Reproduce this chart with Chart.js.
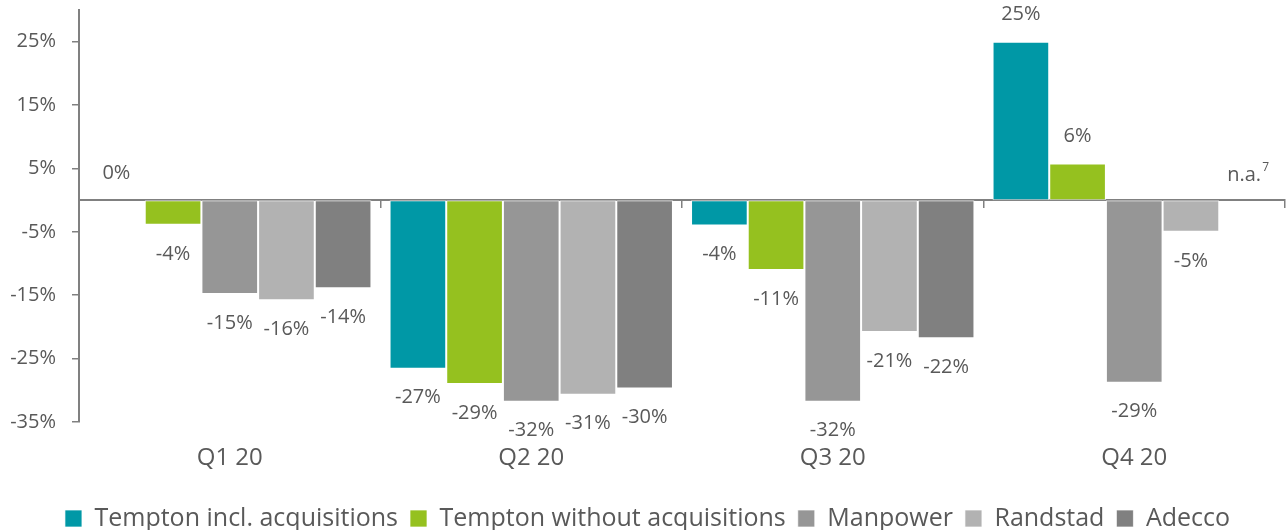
<!DOCTYPE html>
<html>
<head>
<meta charset="utf-8">
<script src="https://cdn.jsdelivr.net/npm/chart.js@4/dist/chart.umd.min.js"></script>
<style>
    html, body { margin: 0; padding: 0; background: #fff; overflow: hidden; }
    #wrap { width: 1286px; height: 530px; }
</style>
</head>
<body>
<div id="wrap"><canvas id="chart"></canvas></div>
<script>
// Chart data (percent change vs. prior year)
const quarters = ['Q1 20', 'Q2 20', 'Q3 20', 'Q4 20'];
const temptonIncl = [0, -26.6, -4, 25];
const temptonWithout = [-3.9, -29, -11, 5.8];
const manpower = [-14.8, -31.8, -31.8, -28.8];
const randstad = [-15.8, -30.7, -20.8, -5];
const adecco = [-13.9, -29.7, -21.8, null];
const yTicks = [-35, -25, -15, -5, 5, 15, 25];

const FONT = "'Open Sans', sans-serif";
const AXIS = '#808080';
const TEXT = '#595959';

// Draws the value labels under/over each bar, "n.a." where there is no value
const valueLabels = {
    id: 'valueLabels',
    afterDatasetsDraw(chart) {
        const ctx = chart.ctx;
        const yScale = chart.scales.y;
        ctx.save();
        ctx.fillStyle = TEXT;
        ctx.textBaseline = 'middle';
        chart.data.datasets.forEach((ds, di) => {
            const meta = chart.getDatasetMeta(di);
            meta.data.forEach((bar, i) => {
                const v = ds.data[i];
                if (v === null || v === undefined) {
                    const y = yScale.getPixelForValue(0) - 25;
                    const main = 'n.a.';
                    ctx.font = `20px ${FONT}`;
                    const w1 = ctx.measureText(main).width;
                    ctx.font = `12px ${FONT}`;
                    const w2 = ctx.measureText('7').width;
                    const x0 = bar.x - (w1 + w2) / 2;
                    ctx.textAlign = 'left';
                    ctx.font = `20px ${FONT}`;
                    ctx.fillText(main, x0, y);
                    ctx.font = `12px ${FONT}`;
                    ctx.fillText('7', x0 + w1 + 1, y - 8);
                    return;
                }
                ctx.font = `20px ${FONT}`;
                ctx.textAlign = 'center';
                const y = v >= 0 ? bar.y - 27 : bar.y + 29;
                ctx.fillText(Math.round(v) + '%', bar.x, y);
            });
        });
        ctx.restore();
    }
};

const barStyle = { borderWidth: 1, borderColor: 'rgba(255,255,255,0.7)', borderSkipped: false };

new Chart(document.getElementById('chart').getContext('2d'), {
    type: 'bar',
    data: {
        labels: quarters,
        datasets: [
            { label: 'Tempton incl. acquisitions', data: temptonIncl, backgroundColor: '#0098a6', ...barStyle },
            { label: 'Tempton without acquisitions', data: temptonWithout, backgroundColor: '#95c11f', ...barStyle },
            { label: 'Manpower', data: manpower, backgroundColor: '#969696', ...barStyle },
            { label: 'Randstad', data: randstad, backgroundColor: '#b2b2b2', ...barStyle },
            { label: 'Adecco', data: adecco, backgroundColor: '#808080', ...barStyle }
        ]
    },
    options: {
        responsive: true,
        maintainAspectRatio: false,
        animation: false,
        layout: { padding: { top: 10, right: 1, left: 10, bottom: -11 } },
        datasets: { bar: { categoryPercentage: 0.94, barPercentage: 1.0 } },
        scales: {
            x: {
                position: 'bottom',
                grid: { display: false },
                border: { display: false },
                ticks: { color: TEXT, font: { family: FONT, size: 24 }, padding: 14 },
                afterFit: s => { s.height = 72; }
            },
            // zero line with tick marks between the quarters
            zero: {
                axis: 'x',
                type: 'category',
                labels: quarters,
                position: { y: 0 },
                offset: true,
                grid: { offset: true, drawOnChartArea: false, drawTicks: true, tickLength: 7, color: AXIS, lineWidth: 1.5 },
                border: { display: true, color: AXIS, width: 2 },
                ticks: { display: false }
            },
            y: {
                min: -35,
                max: 30,
                afterBuildTicks: axis => { axis.ticks = yTicks.map(v => ({ value: v })); },
                afterFit: s => {
                    s.width = 69;
                    s.paddingTop = 0;
                    s.paddingBottom = 0;
                },
                grid: { drawOnChartArea: false, tickLength: 7, color: AXIS, lineWidth: 1.5 },
                border: { color: AXIS, width: 2 },
                ticks: {
                    color: TEXT,
                    font: { family: FONT, size: 20 },
                    padding: 16,
                    callback: v => v + '%'
                }
            }
        },
        plugins: {
            tooltip: { enabled: false },
            legend: {
                position: 'bottom',
                labels: {
                    color: TEXT,
                    font: { family: FONT, size: 25 },
                    boxWidth: 17,
                    boxHeight: 17,
                    padding: 12
                }
            }
        }
    },
    plugins: [valueLabels]
});
</script>
</body>
</html>
